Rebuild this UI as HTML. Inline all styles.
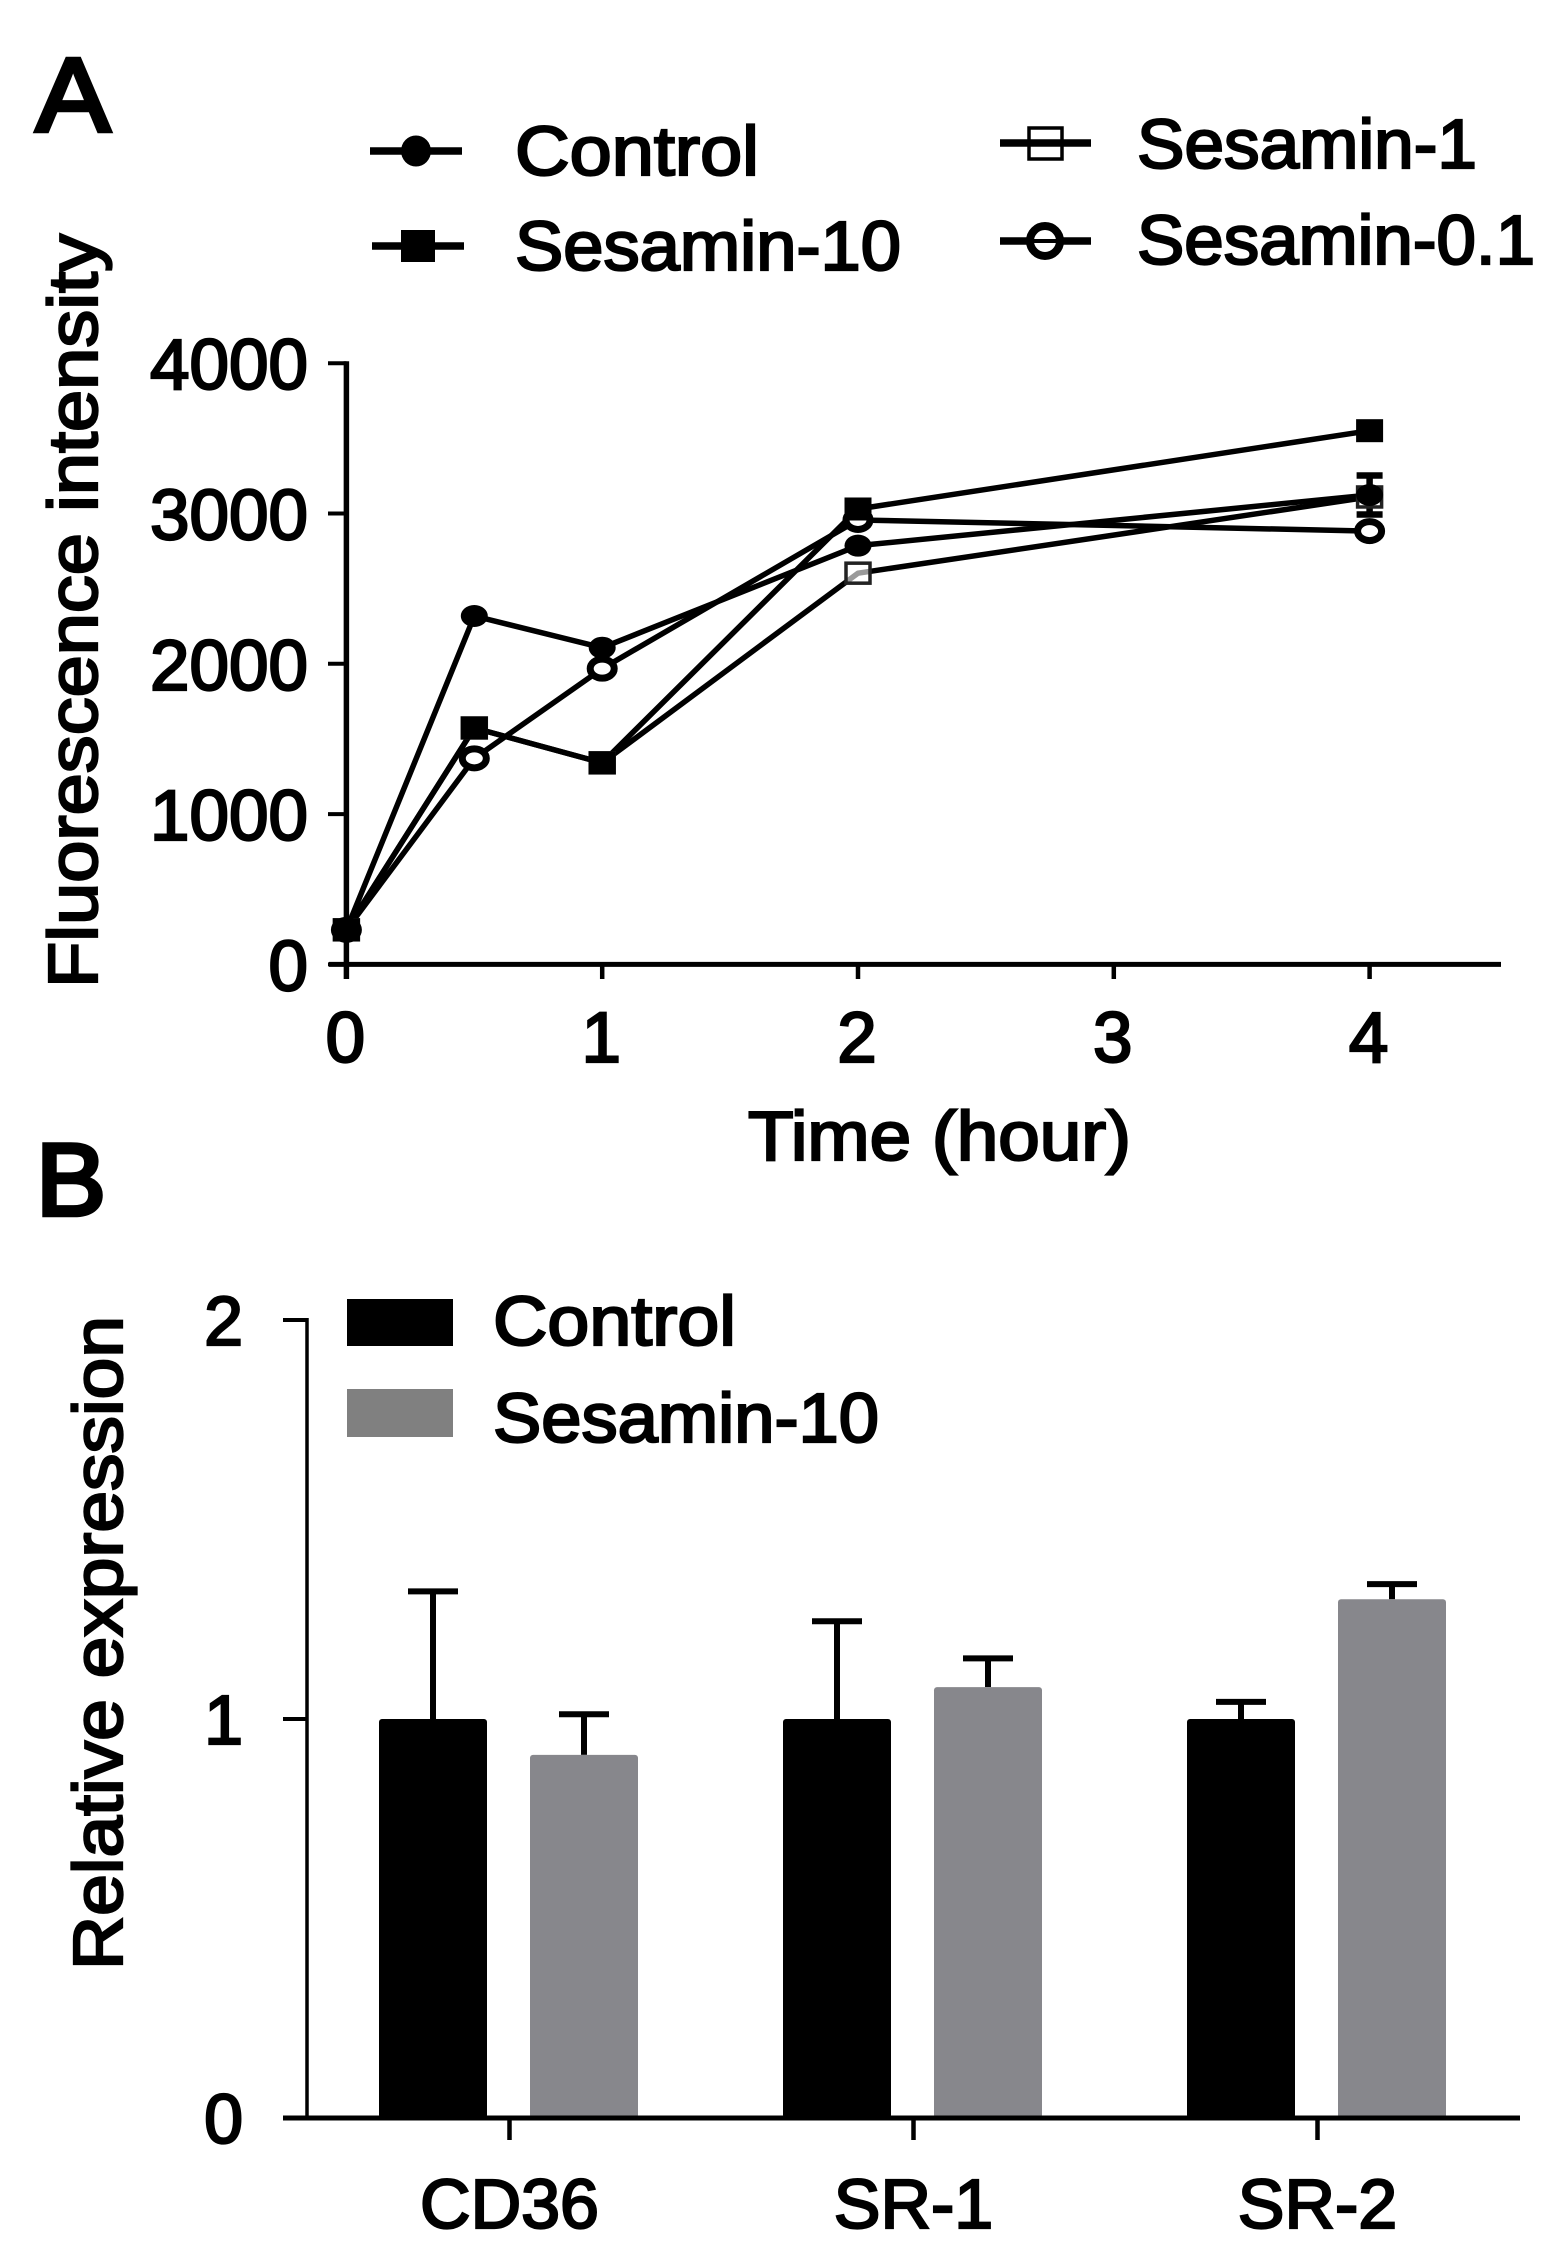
<!DOCTYPE html>
<html lang="en">
<head>
<meta charset="utf-8">
<title>Fluorescence intensity and relative expression</title>
<style>
html,body{margin:0;padding:0;background:#fff;width:1542px;height:2255px;overflow:hidden}
svg{display:block}
text{font-family:"Liberation Sans",Arial,sans-serif;fill:#000;stroke:#000;stroke-width:2.3px}
</style>
</head>
<body>
<svg id="figure" xmlns="http://www.w3.org/2000/svg" width="1542" height="2255" viewBox="0 0 1542 2255">
  <rect x="0" y="0" width="1542" height="2255" fill="#fff"/>

  <text x="36" y="131" font-size="105" textLength="74" lengthAdjust="spacingAndGlyphs" style="stroke-width:4.5px">A</text>
  <text x="36" y="1215" font-size="102" textLength="70" lengthAdjust="spacingAndGlyphs" style="stroke-width:4.5px">B</text>

  <g>
    <g>
      <line x1="370" y1="151" x2="462" y2="151" stroke="#000" stroke-width="7.5"/>
      <ellipse cx="416" cy="151" rx="15" ry="15.5" fill="#000"/>
      <text x="515" y="175" font-size="70" textLength="244" lengthAdjust="spacingAndGlyphs">Control</text>
    </g>
    <g>
      <line x1="372" y1="246" x2="464" y2="246" stroke="#000" stroke-width="7.5"/>
      <rect x="401" y="230" width="34" height="32" fill="#000"/>
      <text x="515" y="270" font-size="70" textLength="386" lengthAdjust="spacingAndGlyphs">Sesamin-10</text>
    </g>
    <g>
      <line x1="1000" y1="143" x2="1091" y2="143" stroke="#000" stroke-width="7.5"/>
      <rect x="1029" y="128" width="33" height="31" fill="none" stroke="#000" stroke-width="3.5"/>
      <text x="1137" y="168" font-size="70" textLength="340" lengthAdjust="spacingAndGlyphs">Sesamin-1</text>
    </g>
    <g>
      <line x1="1000" y1="241" x2="1091" y2="241" stroke="#000" stroke-width="7.5"/>
      <ellipse cx="1045" cy="241" rx="15" ry="15" fill="#fff" stroke="#000" stroke-width="8"/>
      <line x1="1030" y1="241" x2="1060" y2="241" stroke="#000" stroke-width="4"/>
      <text x="1137" y="264" font-size="70" textLength="398" lengthAdjust="spacingAndGlyphs">Sesamin-0.1</text>
    </g>
  </g>

  <g>
    <g id="axes-a"></g>
    <g id="series-a"></g>
    <text transform="translate(97 988) rotate(-90)" font-size="70" textLength="754" lengthAdjust="spacingAndGlyphs">Fluorescence intensity</text>
    <text x="748" y="1160" font-size="70" textLength="383" lengthAdjust="spacingAndGlyphs">Time (hour)</text>
  </g>

  <g>
    <g>
      <rect x="347" y="1299" width="106" height="47" fill="#000"/>
      <text x="493" y="1345" font-size="70" textLength="243" lengthAdjust="spacingAndGlyphs">Control</text>
    </g>
    <g>
      <rect x="347" y="1389" width="106" height="48" fill="#808080"/>
      <text x="493" y="1442" font-size="70" textLength="386" lengthAdjust="spacingAndGlyphs">Sesamin-10</text>
    </g>
  </g>

  <g>
    <g id="bars-b"></g>
    <g id="axes-b"></g>
    <text transform="translate(122 1970) rotate(-90)" font-size="70" textLength="654" lengthAdjust="spacingAndGlyphs">Relative expression</text>
  </g>
</svg>
<script>
// Panel A data
const timeHours = [0, 0.5, 1, 2, 4];
const controlValues = [230, 2318, 2107, 2786, 3123];
const sesamin10Values = [230, 1573, 1341, 3030, 3551];
const sesamin1Values = [230, 1573, 1341, 2603, 3110];
const sesamin01Values = [230, 1371, 1968, 2957, 2883];
const controlErrors = [0, 0, 0, 0, 130];
const yTicksA = [0, 1000, 2000, 3000, 4000];
const xTicksA = [0, 1, 2, 3, 4];

// Panel B data
const categoriesB = ['CD36', 'SR-1', 'SR-2'];
const controlBars = [1.0, 1.0, 1.0];
const sesaminBars = [0.91, 1.08, 1.30];
const controlBarErrors = [0.32, 0.245, 0.043];
const sesaminBarErrors = [0.102, 0.072, 0.038];
const yTicksB = [0, 1, 2];

const NS = 'http://www.w3.org/2000/svg';
function xA(t) { return 346.4 + t * 255.8; }
function yA(v) { return 964.4 - v * 0.1503; }
function groupB(i) { return 508.5 + i * 404; }
function yB(v) { return 2118 - v * 399; }

function make(parent, tag, attrs, text) {
  const el = document.createElementNS(NS, tag);
  for (const k in attrs) el.setAttribute(k, attrs[k]);
  if (text !== undefined) el.textContent = text;
  parent.appendChild(el);
  return el;
}

// Panel A axes
const axesA = document.getElementById('axes-a');
const yAxisA = make(axesA, 'line', {x1: xA(0), y1: yA(4000) - 2, x2: xA(0), y2: 979, stroke: '#000', 'stroke-width': 5.5});


const xAxisA = make(axesA, 'line', {x1: 329, y1: yA(0), x2: 1501, y2: yA(0), stroke: '#000', 'stroke-width': 5});



yTicksA.forEach(function (v) {
  const tick = make(axesA, 'line', {x1: 328, y1: yA(v), x2: xA(0), y2: yA(v), stroke: '#000', 'stroke-width': 4});
  
  
  const label = make(axesA, 'text', {x: 308, y: yA(v) + 26, 'font-size': 71, 'text-anchor': 'end'}, String(v));
  
  
});
xTicksA.forEach(function (t) {
  const tick = make(axesA, 'line', {x1: xA(t), y1: yA(0), x2: xA(t), y2: 979, stroke: '#000', 'stroke-width': 4.5});
  
  
  const label = make(axesA, 'text', {x: xA(t) - 1, y: 1062, 'font-size': 71, 'text-anchor': 'middle'}, String(t));
  
  
});

// Panel A series
const seriesA = document.getElementById('series-a');
function linePoints(values) {
  return values.map(function (v, i) { return xA(timeHours[i]) + ',' + yA(v); }).join(' ');
}

const line1 = make(seriesA, 'polyline', {points: linePoints(sesamin1Values), fill: 'none', stroke: '#000', 'stroke-width': 5.5, 'stroke-linejoin': 'round'});


const line01 = make(seriesA, 'polyline', {points: linePoints(sesamin01Values), fill: 'none', stroke: '#000', 'stroke-width': 5.5, 'stroke-linejoin': 'round'});


const line10 = make(seriesA, 'polyline', {points: linePoints(sesamin10Values), fill: 'none', stroke: '#000', 'stroke-width': 5.5, 'stroke-linejoin': 'round'});


const lineC = make(seriesA, 'polyline', {points: linePoints(controlValues), fill: 'none', stroke: '#000', 'stroke-width': 5.5, 'stroke-linejoin': 'round'});



controlErrors.forEach(function (e, i) {
  if (!e) return;
  const x = xA(timeHours[i]);
  const hi = yA(controlValues[i] + e);
  const lo = yA(controlValues[i] - e);
  const err = make(seriesA, 'path', {d: 'M' + (x - 13) + ' ' + hi + 'H' + (x + 13) + 'M' + x + ' ' + hi + 'V' + lo + 'M' + (x - 13) + ' ' + lo + 'H' + (x + 13), fill: 'none', stroke: '#000', 'stroke-width': 6.5});
  
  
});

sesamin1Values.forEach(function (v, i) {
  const m = make(seriesA, 'rect', {x: xA(timeHours[i]) - 12, y: yA(v) - 10, width: 24, height: 20, fill: '#fff', 'fill-opacity': 0.6, stroke: '#222', 'stroke-width': 3.5});
  
  
});
sesamin01Values.forEach(function (v, i) {
  const m = make(seriesA, 'ellipse', {cx: xA(timeHours[i]), cy: yA(v), rx: 12, ry: 9.5, fill: '#fff', stroke: '#000', 'stroke-width': 7});
  
  
});
controlValues.forEach(function (v, i) {
  const m = make(seriesA, 'ellipse', {cx: xA(timeHours[i]), cy: yA(v), rx: 13.5, ry: 11, fill: '#000'});
  
  
});
sesamin10Values.forEach(function (v, i) {
  const m = make(seriesA, 'rect', {x: xA(timeHours[i]) - 13.5, y: yA(v) - 11.5, width: 27, height: 23, fill: '#000'});
  
  
});

// Panel B bars
const barsB = document.getElementById('bars-b');
const barWidth = 108;
function drawBar(cx, value, error, color, name) {
  const errLine = make(barsB, 'path', {d: 'M' + (cx - 25) + ' ' + yB(value + error) + 'H' + (cx + 25) + 'M' + cx + ' ' + yB(value + error) + 'V' + yB(value), fill: 'none', stroke: '#000', 'stroke-width': 6});
  
  
  const bar = make(barsB, 'rect', {x: cx - barWidth / 2, y: yB(value), width: barWidth, height: yB(0) - yB(value), rx: 3, fill: color});
  
  
}
categoriesB.forEach(function (c, i) {
  const key = c.toLowerCase();
  drawBar(groupB(i) - 75.5, controlBars[i], controlBarErrors[i], '#000', key + '-control');
  drawBar(groupB(i) + 75.5, sesaminBars[i], sesaminBarErrors[i], '#87878c', key + '-sesamin-10');
});

// Panel B axes
const axesB = document.getElementById('axes-b');
const yAxisB = make(axesB, 'line', {x1: 307, y1: yB(2) - 2, x2: 307, y2: yB(0), stroke: '#000', 'stroke-width': 3.5});


const xAxisB = make(axesB, 'line', {x1: 283, y1: yB(0), x2: 1520, y2: yB(0), stroke: '#000', 'stroke-width': 5});


yTicksB.forEach(function (v) {
  const tick = make(axesB, 'line', {x1: 283, y1: yB(v), x2: 307, y2: yB(v), stroke: '#000', 'stroke-width': 4});
  
  
  const label = make(axesB, 'text', {x: 243, y: yB(v) + 25, 'font-size': 70, 'text-anchor': 'end'}, String(v));
  
  
});
categoriesB.forEach(function (c, i) {
  const tick = make(axesB, 'line', {x1: groupB(i) + 1, y1: yB(0), x2: groupB(i) + 1, y2: 2140, stroke: '#000', 'stroke-width': 4.5});
  
  
  const label = make(axesB, 'text', {x: groupB(i) + 1, y: 2228, 'font-size': 70, 'text-anchor': 'middle'}, c);
  
  
});
</script>
</body>
</html>
